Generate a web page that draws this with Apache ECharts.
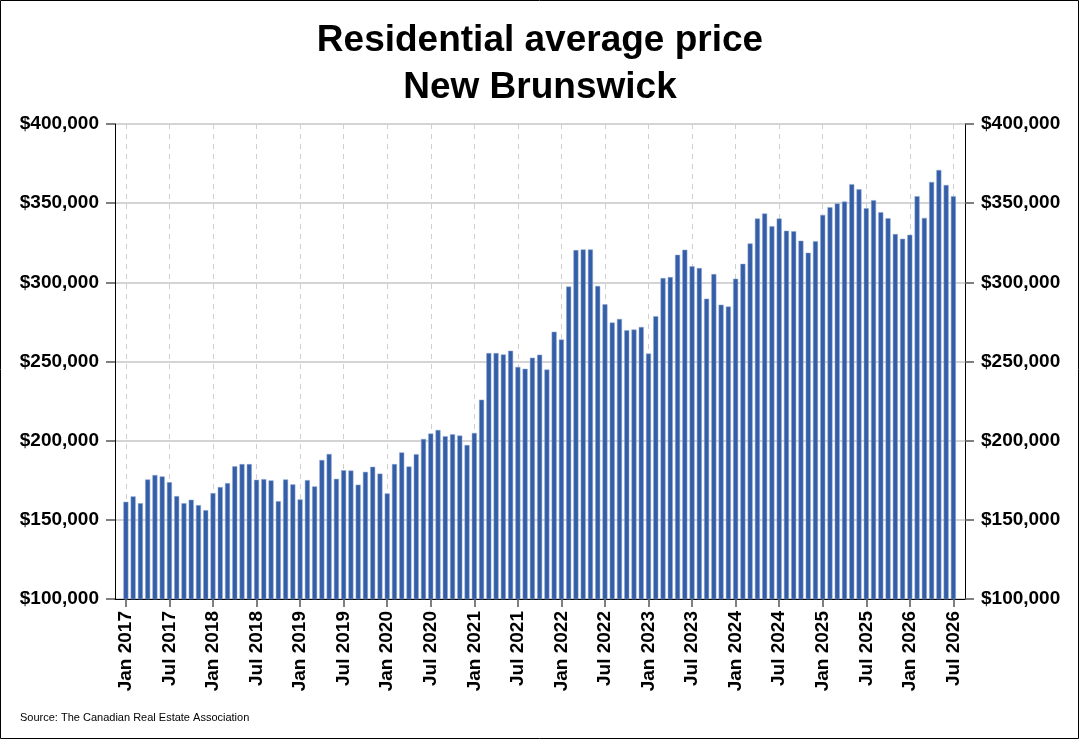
<!DOCTYPE html>
<html>
<head>
<meta charset="utf-8">
<style>
  body,
  html {
    overflow: hidden;
    width: 100%;
    height: 100%;
    margin: 0;
    padding: 0;
    background: #fff;
  }
  .chart-wrapper {
    position: relative;
    width: 1080px;
    height: 740px;
  }
</style>
</head>
<body>
<div id="chart-wrapper" class="chart-wrapper"></div>

<script src="https://cdn.jsdelivr.net/npm/echarts@6/dist/echarts.min.js"></script>

<script>
  // monthly average price, Jan 2017 .. Jul 2026
  const prices = [
    161400, 164800, 160500, 175500, 178300, 177400, 173800, 165000, 160500, 162700, 159300, 156100,
    166900, 170700, 173200, 183800, 185200, 185200, 175300, 175700, 174900, 161800, 175500, 172400,
    162900, 175100, 171100, 187800, 191600, 175900, 181300, 181100, 172200, 180300, 183500, 179200,
    166700, 185200, 192600, 183700, 191500, 201100, 204500, 206800, 202800, 204000, 203200, 197200,
    204900, 225900, 255300, 255300, 254500, 256800, 246600, 245400, 252400, 254300, 244900, 268800,
    263900, 297300, 320400, 320800, 320800, 297700, 286100, 274600, 276900, 269700, 270200, 271800,
    255000, 278600, 302700, 303300, 317400, 320600, 310100, 309000, 289700, 305200, 285900, 284700,
    302300, 311700, 324600, 340300, 343500, 335500, 340300, 332600, 332300, 326300, 318700, 326000,
    342600, 347500, 349800, 351000, 362000, 358800, 346800, 351900, 344300, 340500, 330500, 327500,
    330000, 354400, 340700, 363400, 371000, 361500, 354400
  ];

  // one label every 6 months
  const tickLabels = [
    "Jan 2017", "Jul 2017", "Jan 2018", "Jul 2018", "Jan 2019", "Jul 2019",
    "Jan 2020", "Jul 2020", "Jan 2021", "Jul 2021", "Jan 2022", "Jul 2022",
    "Jan 2023", "Jul 2023", "Jan 2024", "Jul 2024", "Jan 2025", "Jul 2025",
    "Jan 2026", "Jul 2026"
  ];

  const titleText = "Residential average price\nNew Brunswick";
  const sourceText = "Source: The Canadian Real Estate Association";

  const FONT = "'Liberation Sans', Arial, sans-serif";
  const tickPos = tickLabels.map((_, i) => i * 6);
  const barData = prices.map((v, i) => [i, v]);

  const money = (v) => "$" + v.toLocaleString("en-US");

  const chartDom = document.getElementById("chart-wrapper");
  const chart = echarts.init(chartDom, null, { renderer: "canvas" });

  const yAxisBase = {
    type: "value",
    min: 100000,
    max: 400000,
    interval: 50000,
    axisLine: { show: true, onZero: false, lineStyle: { color: "#000", width: 1 } },
    axisTick: { show: true, inside: false, length: 9, lineStyle: { color: "#555", width: 1.5 } },
    axisLabel: {
      formatter: money,
      fontFamily: FONT,
      fontWeight: "bold",
      fontSize: 19,
      color: "#000",
      margin: 16,
    },
  };

  const option = {
    backgroundColor: "#fff",
    animation: false,
    title: {
      text: titleText,
      left: "center",
      top: 12,
      textStyle: {
        fontFamily: FONT,
        fontWeight: "bold",
        fontSize: 37,
        lineHeight: 47,
        color: "#000",
      },
    },
    grid: {
      left: 115,
      right: 115,
      top: 124,
      bottom: 141,
      containLabel: false,
    },
    xAxis: {
      type: "value",
      min: -1.5,
      max: 115.6,
      axisLine: { show: true, onZero: false, lineStyle: { color: "#000", width: 1 } },
      axisTick: {
        show: true,
        length: 8,
        customValues: tickPos,
        lineStyle: { color: "#555", width: 1.5 },
      },
      axisLabel: {
        customValues: tickPos,
        rotate: 90,
        margin: 12,
        fontFamily: FONT,
        fontWeight: "bold",
        fontSize: 19,
        color: "#000",
        formatter: (v) => tickLabels[Math.round(v / 6)] || "",
      },
      splitLine: {
        show: true,
        lineStyle: { color: "#cfcfcf", type: [5, 5], width: 1 },
      },
    },
    yAxis: [
      Object.assign({}, yAxisBase, {
        position: "left",
        splitLine: { show: true, lineStyle: { color: "#c6c6c6", width: 1.5 } },
      }),
      Object.assign({}, yAxisBase, {
        position: "right",
        splitLine: { show: false },
      }),
    ],
    series: [
      {
        type: "bar",
        data: barData,
        barWidth: 5,
        yAxisIndex: 0,
        itemStyle: { color: "#345fa8", borderColor: "#8ea6d0", borderWidth: 0.5 },
      },
    ],
    graphic: [
      {
        type: "text",
        left: 20,
        top: 712,
        style: {
          text: sourceText,
          fontFamily: FONT,
          fontSize: 11,
          fill: "#000",
        },
      },
      {
        type: "rect",
        shape: { x: 0.5, y: 0.5, width: 1078, height: 738 },
        style: { fill: "none", stroke: "#000", lineWidth: 1 },
        silent: true,
        z: 100,
      },
    ],
  };

  chart.setOption(option);
</script>
</body>
</html>
